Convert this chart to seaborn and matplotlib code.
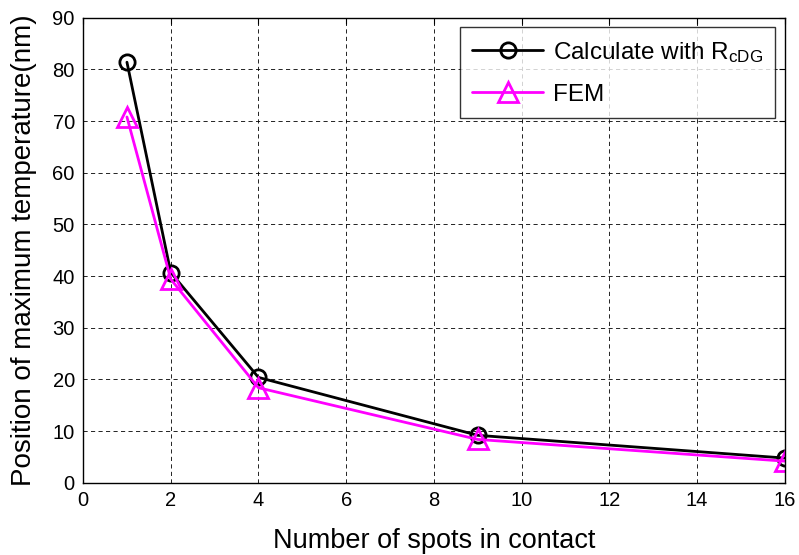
import matplotlib
matplotlib.use('Agg')
import matplotlib.pyplot as plt
import seaborn as sns

# values
spots = [1, 2, 4, 9, 16]
calc_rcdg = [81.4, 40.7, 20.4, 9.2, 4.8]
fem = [70.8, 39.4, 18.4, 8.4, 4.2]

sns.set_style('white')
plt.rcParams['font.family'] = ['Liberation Sans', 'DejaVu Sans']
plt.rcParams['mathtext.fontset'] = 'custom'
plt.rcParams['mathtext.rm'] = 'Liberation Sans'
plt.rcParams['mathtext.it'] = 'Liberation Sans'
plt.rcParams['text.color'] = 'k'
plt.rcParams['axes.labelcolor'] = 'k'

fig, ax = plt.subplots(figsize=(7.99, 5.55), dpi=100)
fig.subplots_adjust(left=0.104, right=0.982, bottom=0.130, top=0.968)

sns.lineplot(x=spots, y=calc_rcdg, ax=ax, color='k', lw=2, marker='o', ms=11,
             mfc='none', mec='k', mew=2, label=r'Calculate with R$_{\mathrm{cDG}}$')
sns.lineplot(x=spots, y=fem, ax=ax, color='#ff00ff', lw=2, marker='^', ms=14,
             mfc='none', mec='#ff00ff', mew=2, label='FEM')

ax.set_xlim(0, 16)
ax.set_ylim(0, 90)
ax.set_xticks(range(0, 17, 2))
ax.set_yticks(range(0, 91, 10))
ax.grid(True, color='k', linestyle=(0, (5, 4)), lw=0.6)
ax.tick_params(direction='in', length=4, width=0.8, top=True, right=True,
               labelsize=14.5, colors='k', pad=6)
for s in ax.spines.values():
    s.set_color('k')
    s.set_linewidth(1)

ax.set_xlabel('Number of spots in contact', fontsize=19.5, labelpad=13)
ax.set_ylabel('Position of maximum temperature(nm)', fontsize=20, labelpad=11)

leg = ax.legend(loc='upper right', fontsize=17.5, frameon=True, fancybox=False,
                edgecolor='k', handlelength=2.9, handletextpad=0.4,
                borderpad=0.5, labelspacing=0.8, borderaxespad=0.4)
leg.get_frame().set_linewidth(1)

fig.savefig('out.png', dpi=100)
